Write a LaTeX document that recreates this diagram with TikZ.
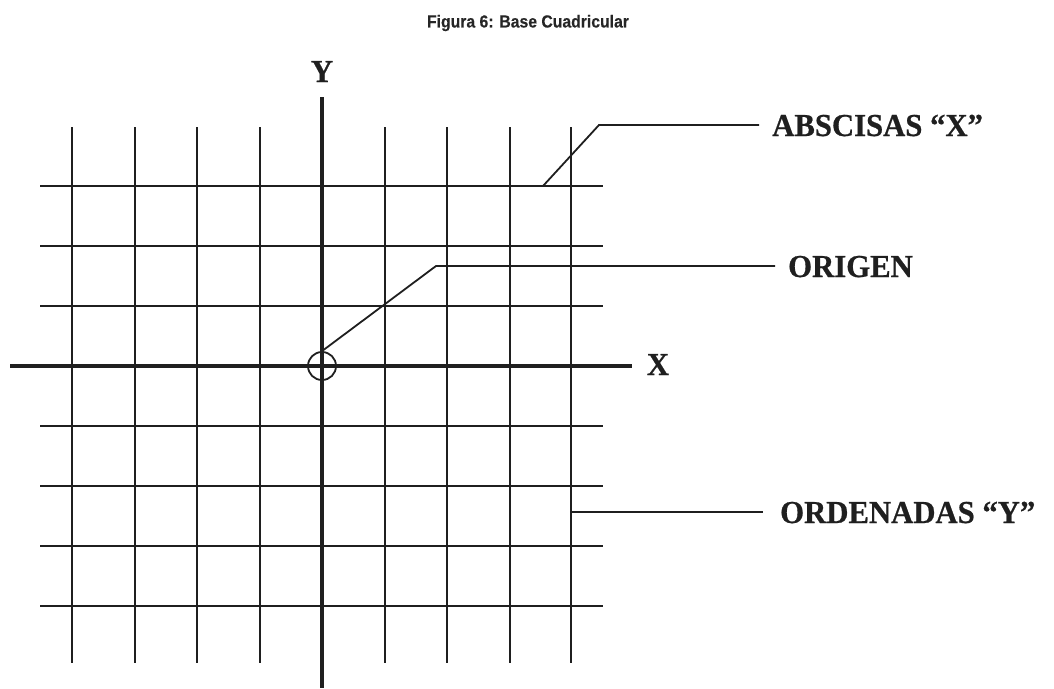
\documentclass[tikz,border=0pt]{standalone}
\usepackage{fontspec}
\setmainfont{Liberation Serif}
\newfontfamily\labfont[FakeStretch=0.96,FakeBold=0.6]{Liberation Serif Bold}
\newfontfamily\titlefont[FakeStretch=0.9,FakeBold=0.3]{Liberation Sans Bold}
\begin{document}
\begin{tikzpicture}[x=1pt,y=-1pt,
  gridline/.style={line width=2pt,draw=black!88},
  axisline/.style={line width=4pt,draw=black!88},
  leader/.style={line width=1.8pt,draw=black!88},
  lab/.style={font=\labfont\fontsize{32}{32}\selectfont,inner sep=0pt,text=black!88},
  ttl/.style={font=\titlefont\fontsize{17.5}{17.5}\selectfont,inner sep=0pt,text=black!85}]
\useasboundingbox (0,0) rectangle (1054,688);
% title
\node[ttl] (title) at (528,23) {Figura 6: Base Cuadricular};
% grid
\foreach \gx in {72,134.5,197,259.5,384.5,447,509.5,571}
  \draw[gridline] (\gx,127) -- (\gx,663);
\foreach \gy in {186,246,306,426,486,546,606}
  \draw[gridline] (40,\gy) -- (603,\gy);
% axes
\draw[axisline] (322,97) -- (322,688);
\draw[axisline] (10,366) -- (632,366);
\node[lab,anchor=base] (ylab) at (322,82) {Y};
\node[lab,anchor=base] (xlab) at (658,375) {X};
% origin circle
\node[circle,draw=black!88,line width=1.8pt,minimum size=28pt,inner sep=0pt] (orig) at (322,366) {};
% labels
\node[lab,anchor=base west] (absc) at (772,136) {ABSCISAS “X”};
\node[lab,anchor=base west] (origen) at (788,277) {ORIGEN};
\node[lab,anchor=base west] (orden) at (780,523) {ORDENADAS “Y”};
% leader coordinates
\coordinate (a0) at (543,186);
\coordinate (a1) at (599,125);
\coordinate (a2) at (759,125);
\coordinate (o1) at (436,266);
\coordinate (o2) at (775,266);
\coordinate (r0) at (571,512);
\coordinate (r1) at (763,512);
\draw[leader] (a0) -- (a1) -- (a2);
\draw[leader] (orig.north) -- (o1) -- (o2);
\draw[leader] (r0) -- (r1);
\end{tikzpicture}
\end{document}
